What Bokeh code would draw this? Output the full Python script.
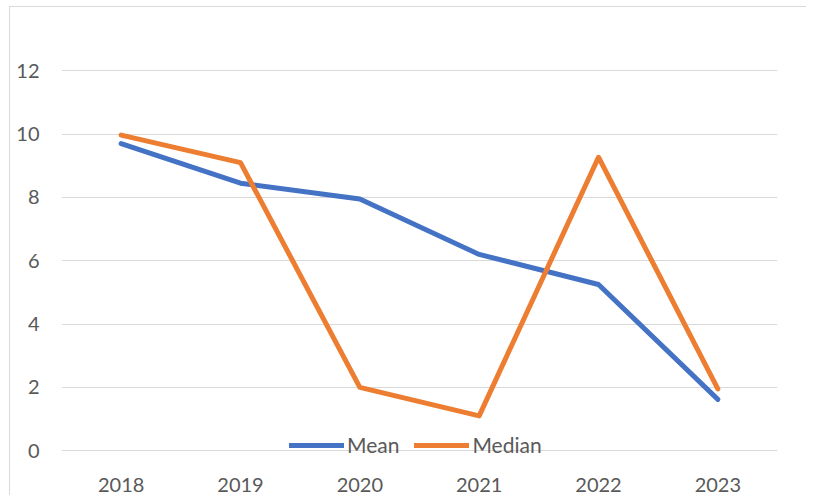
from bokeh.plotting import figure
from bokeh.models import FactorRange, Range1d, FixedTicker, Legend, LegendItem
from bokeh.embed import file_html
from bokeh.resources import INLINE

years = ["2018", "2019", "2020", "2021", "2022", "2023"]
mean_vals = [9.7, 8.45, 7.95, 6.2, 5.25, 1.62]
median_vals = [9.97, 9.1, 2.0, 1.1, 9.27, 1.95]
y_ticks = [0, 2, 4, 6, 8, 10, 12]

FONT = "Lato"
TXT = "#595959"
GRID = "#d9d9d9"

p = figure(x_range=FactorRange(*years), y_range=Range1d(-0.5, 14),
           width=806, height=495, output_backend="svg", toolbar_location=None,
           min_border_left=61, min_border_right=29, min_border_top=7, min_border_bottom=29)
p.outline_line_color = None
p.border_fill_color = None
p.background_fill_color = None
p.styles = {"background": "linear-gradient(#d9d9d9,#d9d9d9) 9px 6px / 1px 100% no-repeat, "
                          "linear-gradient(#d9d9d9,#d9d9d9) 9px 6px / 100% 1px no-repeat, white"}

r_mean = p.line(years, mean_vals, line_color="#4472C4", line_width=5,
                line_cap="round", line_join="round")
r_med = p.line(years, median_vals, line_color="#ED7D31", line_width=5,
               line_cap="round", line_join="round")

p.xgrid.grid_line_color = None
p.ygrid.grid_line_color = GRID
p.ygrid.grid_line_width = 1
p.yaxis.ticker = FixedTicker(ticks=y_ticks)

for ax in (p.xaxis[0], p.yaxis[0]):
    ax.major_tick_line_color = None
    ax.minor_tick_line_color = None
    ax.major_label_text_font = FONT
    ax.major_label_text_font_size = "20px"
    ax.major_label_text_color = TXT
p.xaxis.axis_line_color = None
p.yaxis.axis_line_color = None
p.yaxis.major_label_standoff = 16
p.xaxis.major_label_standoff = 5

legend = Legend(items=[LegendItem(label="Mean", renderers=[r_mean]),
                       LegendItem(label="Median", renderers=[r_med])],
                orientation="horizontal", location=(228, 9),
                background_fill_alpha=0, border_line_color=None,
                label_text_font=FONT, label_text_font_size="21px",
                label_text_color=TXT, glyph_width=55, glyph_height=12,
                label_standoff=3, spacing=15, padding=0, margin=0)
p.add_layout(legend)

open("out.html", "w").write(file_html(p, INLINE))
